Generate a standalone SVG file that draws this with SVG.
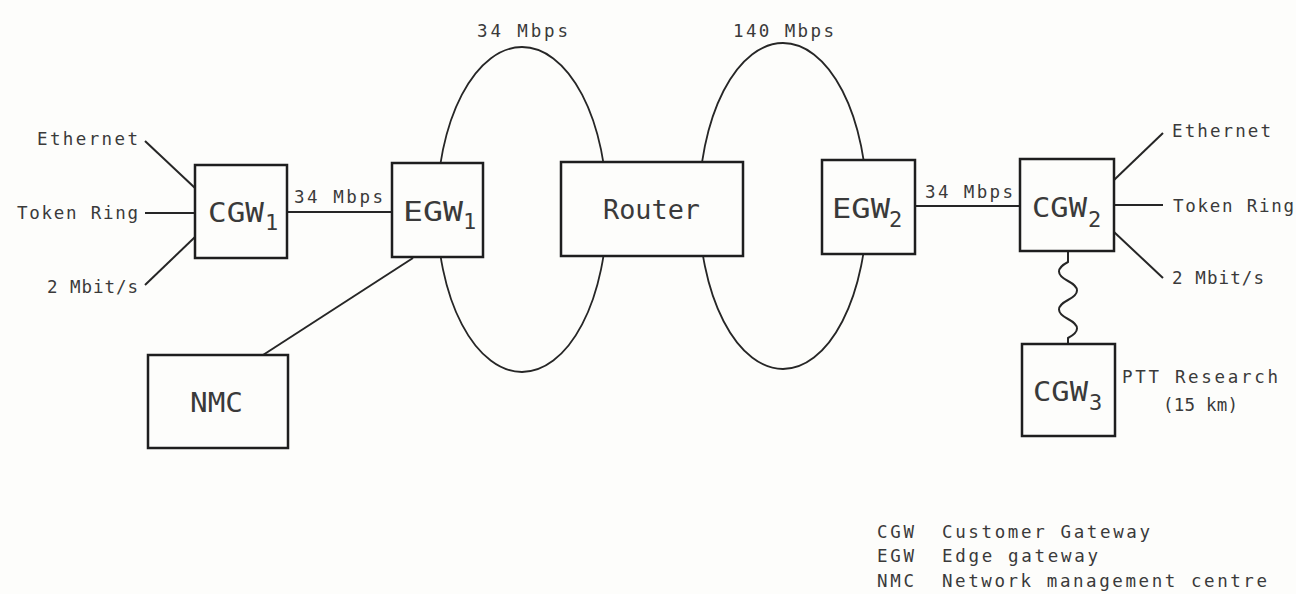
<svg xmlns="http://www.w3.org/2000/svg" width="1296" height="594" viewBox="0 0 1296 594">
<style>
.bg{fill:#fdfdfb}
.box{fill:#fdfdfb;stroke:#1e1e1e;stroke-width:2.5}
.ell{fill:none;stroke:#262626;stroke-width:1.8}
.ln{fill:none;stroke:#262626;stroke-width:2}
.s{font-family:"DejaVu Sans Mono","Liberation Mono",monospace;font-size:17.5px;fill:#3a3a3a}
.b{font-family:"DejaVu Sans Mono","Liberation Mono",monospace;font-size:26px;fill:#3a3a3a}
.sub{font-family:"DejaVu Sans Mono","Liberation Mono",monospace;font-size:22px;fill:#3a3a3a}
</style>
<rect class="bg" x="0" y="0" width="1296" height="594"/>
<g id="networks">
<ellipse class="ell" cx="522" cy="209.5" rx="85" ry="162.5"/>
<ellipse class="ell" cx="783" cy="206" rx="84" ry="163"/>
<text class="s" x="477" y="37" textLength="91" lengthAdjust="spacing">34 Mbps</text>
<text class="s" x="733" y="37" textLength="101" lengthAdjust="spacing">140 Mbps</text>
</g>
<g id="connectors">
<line class="ln" x1="145" y1="141" x2="195" y2="188"/>
<line class="ln" x1="145" y1="213" x2="195" y2="213"/>
<line class="ln" x1="145" y1="285" x2="195" y2="237"/>
<line class="ln" x1="287" y1="212" x2="392" y2="212"/>
<line class="ln" x1="263" y1="355" x2="413" y2="258"/>
<line class="ln" x1="915" y1="206" x2="1020" y2="206"/>
<line class="ln" x1="1114" y1="180" x2="1163" y2="133"/>
<line class="ln" x1="1114" y1="205" x2="1163" y2="205"/>
<line class="ln" x1="1114" y1="232" x2="1163" y2="278"/>
<path class="ln" d="M1068 251 V262 q-18 9.5 0 19 t0 19 t0 19 t0 19 V344"/>
<text class="s" x="37" y="145" textLength="101" lengthAdjust="spacing">Ethernet</text>
<text class="s" x="17" y="219" textLength="121" lengthAdjust="spacing">Token Ring</text>
<text class="s" x="47" y="293" textLength="91" lengthAdjust="spacing">2 Mbit/s</text>
<text class="s" x="294" y="203" textLength="89" lengthAdjust="spacing">34 Mbps</text>
<text class="s" x="925" y="198" textLength="88" lengthAdjust="spacing">34 Mbps</text>
<text class="s" x="1172" y="137" textLength="99" lengthAdjust="spacing">Ethernet</text>
<text class="s" x="1173" y="212" textLength="121" lengthAdjust="spacing">Token Ring</text>
<text class="s" x="1172" y="284" textLength="92" lengthAdjust="spacing">2 Mbit/s</text>
</g>
<g id="cgw1">
<rect class="box" x="195" y="165" width="92" height="93"/>
<text class="b" x="208" y="222" textLength="56" lengthAdjust="spacingAndGlyphs">CGW</text>
<text class="sub" x="265" y="230">1</text>
</g>
<g id="egw1">
<rect class="box" x="392" y="163" width="91" height="94"/>
<text class="b" x="403" y="221" textLength="60" lengthAdjust="spacingAndGlyphs">EGW</text>
<text class="sub" x="463" y="229">1</text>
</g>
<g id="router">
<rect class="box" x="561" y="162" width="182" height="94"/>
<text class="b" x="603" y="219" textLength="97" lengthAdjust="spacingAndGlyphs">Router</text>
</g>
<g id="egw2">
<rect class="box" x="822" y="160" width="93" height="94"/>
<text class="b" x="832" y="218" textLength="58" lengthAdjust="spacingAndGlyphs">EGW</text>
<text class="sub" x="889" y="227">2</text>
</g>
<g id="cgw2">
<rect class="box" x="1020" y="159" width="94" height="92"/>
<text class="b" x="1032" y="217" textLength="55" lengthAdjust="spacingAndGlyphs">CGW</text>
<text class="sub" x="1088" y="227">2</text>
</g>
<g id="cgw3">
<rect class="box" x="1022" y="344" width="93" height="92"/>
<text class="b" x="1033" y="401" textLength="55" lengthAdjust="spacingAndGlyphs">CGW</text>
<text class="sub" x="1089" y="410">3</text>
<text class="s" x="1122" y="383" textLength="156" lengthAdjust="spacing">PTT Research</text>
<text class="s" x="1163" y="411" textLength="75" lengthAdjust="spacing">(15 km)</text>
</g>
<g id="nmc">
<rect class="box" x="148" y="355" width="140" height="93"/>
<text class="b" x="190" y="412" textLength="53" lengthAdjust="spacingAndGlyphs">NMC</text>
</g>
<g id="legend">
<text class="s" x="877" y="538" textLength="37" lengthAdjust="spacing">CGW</text>
<text class="s" x="942" y="538" textLength="208" lengthAdjust="spacing">Customer Gateway</text>
<text class="s" x="877" y="562" textLength="37" lengthAdjust="spacing">EGW</text>
<text class="s" x="942" y="562" textLength="156" lengthAdjust="spacing">Edge gateway</text>
<text class="s" x="877" y="587" textLength="37" lengthAdjust="spacing">NMC</text>
<text class="s" x="942" y="587" textLength="325" lengthAdjust="spacing">Network management centre</text>
</g>
</svg>
